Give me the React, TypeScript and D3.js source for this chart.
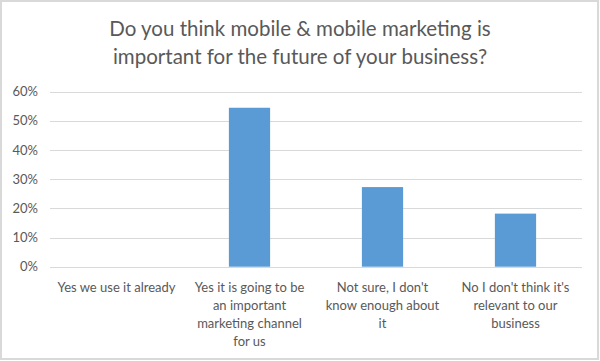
import React from "react";
import * as d3 from "d3";

const title = ["Do you think mobile & mobile marketing is", "important for the future of your business?"];
const categories = [
  "Yes we use it already",
  "Yes it is going to be an important marketing channel for us",
  "Not sure, I don't know enough about it",
  "No I don't think it's relevant to our business",
];
const categoryLines = [
  ["Yes we use it already"],
  ["Yes it is going to be", "an important", "marketing channel", "for us"],
  ["Not sure, I don't", "know enough about", "it"],
  ["No I don't think it's", "relevant to our", "business"],
];
const values = [0, 0.545, 0.273, 0.182];
const yTicks = [0, 0.1, 0.2, 0.3, 0.4, 0.5, 0.6];

const W = 600;
const H = 361;
const FONT = "Lato, 'Open Sans', sans-serif";

export default function App() {
  const x = d3.scaleBand<string>().domain(categories).range([50, 582]).paddingInner(0.69).paddingOuter(0.345);
  const y = d3.scaleLinear().domain([0, 0.6]).range([266.7, 91.7]);
  const band = d3.scaleBand<string>().domain(categories).range([50, 582]);
  const fmt = d3.format(".0%");
  return (
    <svg width={W} height={H} style={{ position: "absolute", left: 0, top: 0, display: "block" }}>
      <rect x={1} y={1} width={W - 3} height={H - 3} fill="#fff" stroke="#d9d9d9" strokeWidth={2} />
      {title.map((t, i) => (
        <text key={i} x={300} y={36 + i * 28} textAnchor="middle" fontFamily={FONT} fontSize={20.5} fill="#595959">
          {t}
        </text>
      ))}
      {yTicks.map((t) => (
        <g key={t}>
          <line x1={50} x2={582} y1={Math.round(y(t)) + 0.5} y2={Math.round(y(t)) + 0.5} stroke="#d9d9d9" strokeWidth={1} />
          <text x={38} y={y(t) + 4.5} textAnchor="end" fontFamily={FONT} fontSize={13} fill="#595959">
            {fmt(t)}
          </text>
        </g>
      ))}
      {categories.map((c, i) => (
        <rect key={c} x={x(c)} y={y(values[i])} width={x.bandwidth()} height={y(0) - y(values[i])} fill="#5b9bd5" />
      ))}
      {categories.map((c, i) => (
        <text key={c} textAnchor="middle" fontFamily={FONT} fontSize={13} fill="#595959">
          {categoryLines[i].map((l, j) => (
            <tspan key={j} x={(band(c) as number) + band.bandwidth() / 2} y={291.5 + j * 18}>
              {l}
            </tspan>
          ))}
        </text>
      ))}
    </svg>
  );
}
